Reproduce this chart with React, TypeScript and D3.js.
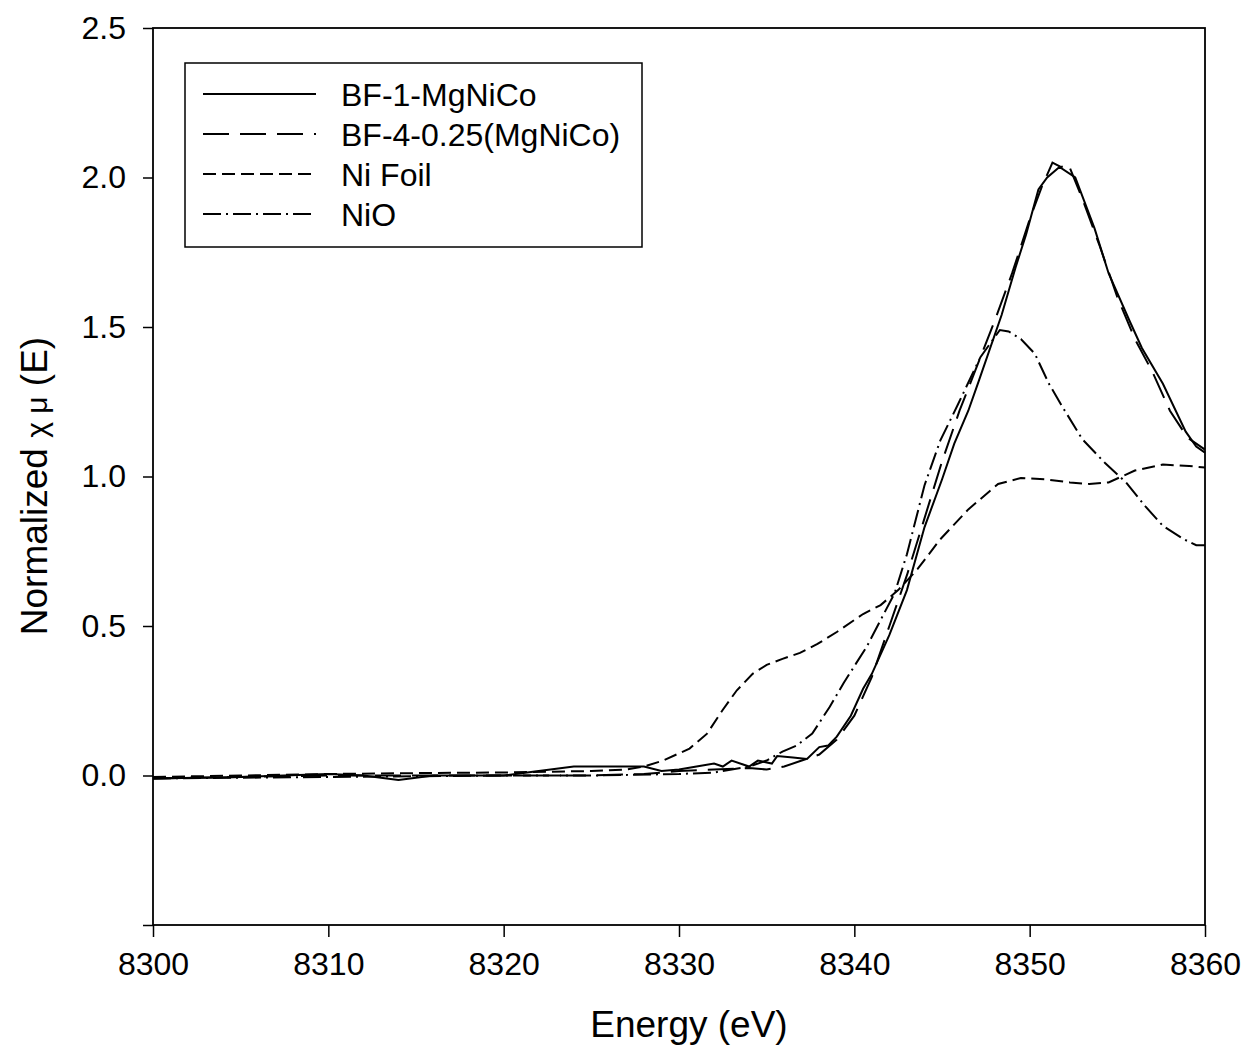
import { useEffect, useRef } from "react";
import * as d3 from "d3";

// BF-1-MgNiCo (solid)
const bf1E = [8300, 8305, 8310, 8312, 8314, 8316, 8320, 8322, 8324, 8326, 8328, 8329, 8330, 8331, 8332, 8332.5, 8333, 8334, 8334.5, 8335.3, 8335.6, 8336.5, 8337.3, 8338, 8338.5, 8339, 8339.8, 8340.5, 8341, 8342, 8343, 8344, 8345, 8345.7, 8346.5, 8347.1, 8348.4, 8349.2, 8349.8, 8350.5, 8351, 8351.7, 8352.6, 8353.7, 8354.5, 8355.7, 8356.4, 8357.6, 8358.9, 8359.5, 8360];
const bf1Mu = [-0.01, -0.005, 0.005, 0.0, -0.015, 0.0, 0.0, 0.015, 0.03, 0.03, 0.03, 0.015, 0.02, 0.03, 0.04, 0.03, 0.05, 0.03, 0.05, 0.04, 0.065, 0.06, 0.055, 0.095, 0.1, 0.13, 0.2, 0.29, 0.34, 0.47, 0.62, 0.83, 0.99, 1.11, 1.22, 1.32, 1.54, 1.7, 1.81, 1.96, 2.0, 2.035, 2.0, 1.83, 1.68, 1.52, 1.43, 1.31, 1.15, 1.1, 1.08];

// BF-4-0.25(MgNiCo) (long dash)
const bf4E = [8300, 8310, 8315, 8320, 8325, 8328, 8330, 8332, 8334, 8335, 8336, 8337, 8338, 8339, 8340, 8341, 8342, 8343, 8344, 8345, 8346, 8347, 8348, 8349, 8350, 8350.7, 8351.3, 8351.8, 8352.2, 8353, 8354, 8355, 8356, 8357, 8358, 8359, 8360];
const bf4Mu = [-0.01, 0.0, 0.0, 0.0, 0.0, 0.005, 0.015, 0.02, 0.025, 0.02, 0.03, 0.05, 0.07, 0.12, 0.2, 0.33, 0.5, 0.67, 0.86, 1.05, 1.22, 1.37, 1.52, 1.68, 1.86, 1.97, 2.05, 2.035, 2.045, 1.93, 1.77, 1.6, 1.46, 1.35, 1.22, 1.13, 1.09];

// Ni Foil (short dash)
const niE = [8300, 8305, 8310, 8315, 8320, 8325, 8327, 8328, 8329.1, 8330.6, 8331.6, 8332.5, 8333.3, 8334.2, 8335, 8335.9, 8336.9, 8337.9, 8339, 8340.5, 8341.5, 8342.5, 8343.6, 8344.9, 8346.5, 8348.2, 8349.5, 8351, 8352.3, 8353.4, 8354.5, 8356, 8357.6, 8359.1, 8360];
const niMu = [-0.005, 0.0, 0.005, 0.008, 0.01, 0.015, 0.02, 0.03, 0.05, 0.09, 0.14, 0.22, 0.285, 0.34, 0.37, 0.39, 0.41, 0.44, 0.48, 0.54, 0.57, 0.62, 0.69, 0.79, 0.89, 0.975, 0.995, 0.99, 0.98, 0.975, 0.98, 1.02, 1.04, 1.035, 1.03];

// NiO (dash-dot)
const nioE = [8300, 8310, 8320, 8325, 8330, 8332, 8334, 8335, 8335.9, 8336.7, 8337.6, 8338.6, 8339.4, 8340.1, 8340.7, 8341.5, 8342.3, 8343, 8344, 8344.9, 8345.9, 8347.2, 8348.3, 8348.8, 8349.5, 8350.3, 8351.1, 8351.9, 8353, 8354.3, 8355.5, 8356.6, 8357.6, 8358.8, 8359.5, 8360];
const nioMu = [-0.01, -0.005, 0.0, 0.0, 0.005, 0.01, 0.03, 0.05, 0.08, 0.1, 0.14, 0.23, 0.31, 0.375, 0.43, 0.52, 0.61, 0.74, 0.97, 1.12, 1.24, 1.4, 1.49, 1.485, 1.46, 1.41, 1.31, 1.23, 1.125, 1.045, 0.98, 0.9, 0.835, 0.79, 0.77, 0.77];

const seriesNames = ["BF-1-MgNiCo", "BF-4-0.25(MgNiCo)", "Ni Foil", "NiO"];
const seriesDash = ["none", "26,11", "13,6", "18,5,2,5"];

const xTicks = [8300, 8310, 8320, 8330, 8340, 8350, 8360];
const yTicks = [-0.5, 0.0, 0.5, 1.0, 1.5, 2.0, 2.5];

const FONT = "'Liberation Sans', Arial, sans-serif";

const App = () => {
  const ref = useRef<SVGSVGElement | null>(null);

  useEffect(() => {
    if (!ref.current) return;
    const svg = d3.select(ref.current);
    svg.selectAll("*").remove();

    const left = 153, right = 1205, top = 28, bottom = 925;

    const x = d3.scaleLinear().domain([8300, 8360]).range([left, right]);
    const y = d3.scaleLinear().domain([-0.5, 2.5]).range([bottom, top]);

    svg.append("rect").attr("width", 1247).attr("height", 1050).attr("fill", "#fff");

    const series = [
      bf1E.map((e, i) => [e, bf1Mu[i]]),
      bf4E.map((e, i) => [e, bf4Mu[i]]),
      niE.map((e, i) => [e, niMu[i]]),
      nioE.map((e, i) => [e, nioMu[i]]),
    ];

    const line = d3
      .line<number[]>()
      .x((d) => x(d[0]))
      .y((d) => y(d[1]));

    series.forEach((s, i) => {
      svg
        .append("path")
        .datum(s)
        .attr("d", line)
        .attr("fill", "none")
        .attr("stroke", "#000")
        .attr("stroke-width", 2)
        .attr("stroke-dasharray", seriesDash[i]);
    });

    // frame
    svg
      .append("rect")
      .attr("x", left)
      .attr("y", top)
      .attr("width", right - left)
      .attr("height", bottom - top)
      .attr("fill", "none")
      .attr("stroke", "#000")
      .attr("stroke-width", 1.8);

    // x axis
    const xAxis = svg
      .append("g")
      .attr("transform", `translate(0,${bottom})`)
      .call(d3.axisBottom(x).tickValues(xTicks).tickFormat(d3.format("d")).tickSize(12).tickSizeOuter(0).tickPadding(15));
    xAxis.select(".domain").remove();
    xAxis.selectAll("line").attr("stroke", "#000").attr("stroke-width", 1.5);
    xAxis.selectAll("text").style("font-family", FONT).style("font-size", "32px").attr("fill", "#000");

    // y axis
    const yAxis = svg
      .append("g")
      .attr("transform", `translate(${left},0)`)
      .call(
        d3
          .axisLeft(y)
          .tickValues(yTicks)
          .tickFormat((d) => (+d < 0 ? "" : d3.format(".1f")(+d)))
          .tickSize(10)
          .tickSizeOuter(0)
          .tickPadding(17)
      );
    yAxis.select(".domain").remove();
    yAxis.selectAll("line").attr("stroke", "#000").attr("stroke-width", 1.5);
    yAxis.selectAll("text").style("font-family", FONT).style("font-size", "32px").attr("fill", "#000");

    // axis titles
    svg
      .append("text")
      .attr("x", (left + right) / 2 + 10)
      .attr("y", 1037)
      .attr("text-anchor", "middle")
      .style("font-family", FONT)
      .style("font-size", "37px")
      .text("Energy (eV)");

    const yTitle = svg
      .append("text")
      .attr("transform", "translate(47,486) rotate(-90)")
      .attr("text-anchor", "middle")
      .style("font-family", FONT)
      .style("font-size", "37px");
    yTitle.append("tspan").text("Normalized ");
    yTitle.append("tspan").style("font-size", "30px").text("χ μ");
    yTitle.append("tspan").text(" (E)");

    // legend
    const lg = svg.append("g");
    lg.append("rect")
      .attr("x", 185)
      .attr("y", 63)
      .attr("width", 457)
      .attr("height", 184)
      .attr("fill", "#fff")
      .attr("stroke", "#000")
      .attr("stroke-width", 1.5);
    seriesNames.forEach((name, i) => {
      const cy = 94 + i * 40;
      lg.append("line")
        .attr("x1", 203)
        .attr("x2", 316)
        .attr("y1", cy)
        .attr("y2", cy)
        .attr("stroke", "#000")
        .attr("stroke-width", 2)
        .attr("stroke-dasharray", seriesDash[i]);
      lg.append("text")
        .attr("x", 341)
        .attr("y", cy)
        .attr("dy", "0.36em")
        .style("font-family", FONT)
        .style("font-size", "32px")
        .text(name);
    });
  }, []);

  return (
    <svg
      ref={ref}
      width={1247}
      height={1050}
      style={{ position: "absolute", left: 0, top: 0 }}
    />
  );
};

export default App;
